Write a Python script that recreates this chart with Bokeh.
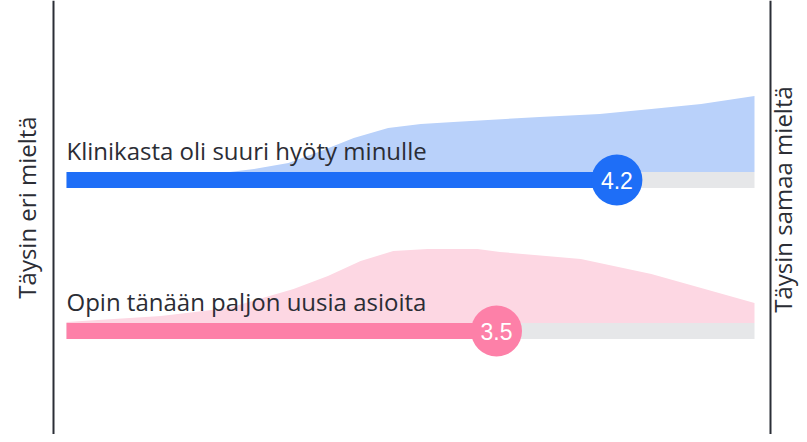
import numpy as np
from bokeh.plotting import figure
from bokeh.models import Range1d, Span, ColumnDataSource
from bokeh.core.properties import value
from bokeh.embed import file_html
from bokeh.resources import INLINE

# ---- data ----
statements = ["Klinikasta oli suuri hyöty minulle", "Opin tänään paljon uusia asioita"]
means = [4.2, 3.5]
mean_labels = ["4.2", "3.5"]
scale_min, scale_max = 1, 5
left_label = "Täysin eri mieltä"
right_label = "Täysin samaa mieltä"

# answer distribution (relative height) along the 1..5 scale
blue_x = [1.95, 2.09, 2.29, 2.48, 2.67, 2.87, 3.06, 3.25, 3.45, 3.75, 4.10, 4.40, 4.69, 5.00]
blue_h = [0, 3, 9, 21, 34, 44, 48, 50, 52, 55, 58, 63, 68, 76]
pink_x = [1.00, 1.55, 1.94, 2.32, 2.52, 2.71, 2.90, 3.10, 3.39, 3.52, 3.99, 4.40, 4.69, 5.00]
pink_h = [1, 7, 15, 34, 47, 62, 72, 74, 74, 71, 64, 49, 35, 20]

# ---- styles / layout ----
W, H = 799, 434
PX_PER_UNIT = 172.0
X0 = 1 - 66 / PX_PER_UNIT
row_y = [254.5, 103.5]
BAR_H = 16
bar_colors = ["#1e6ef7", "#fd80a8"]
area_colors = ["#b9d1fa", "#fdd7e3"]
track_color = "#e6e7e9"
text_color = "#2b2d35"
axis_color = "#2b2e36"
LEFT_LINE_X = X0 + 53 / PX_PER_UNIT
RIGHT_LINE_X = X0 + 770 / PX_PER_UNIT
LEFT_TEXT_X = X0 + 26 / PX_PER_UNIT
RIGHT_TEXT_X = X0 + 782 / PX_PER_UNIT

p = figure(width=W, height=H, output_backend="svg", toolbar_location=None,
           x_range=Range1d(X0, X0 + W / PX_PER_UNIT), y_range=Range1d(0, H),
           x_axis_location=None, y_axis_location=None, min_border=0,
           outline_line_color=None, background_fill_color="white",
           border_fill_color="white")
p.grid.visible = False

# distributions
for xs, hs, base, col in [(blue_x, blue_h, row_y[0] + BAR_H / 2, area_colors[0]),
                          (pink_x, pink_h, row_y[1] + BAR_H / 2, area_colors[1])]:
    xs = np.array(xs, dtype=float)
    hs = np.array(hs, dtype=float)
    p.varea(x=xs, y1=np.full_like(xs, base), y2=base + hs, fill_color=col, fill_alpha=1.0)

# tracks and bars
src = ColumnDataSource(dict(y=row_y, mean=means, lab=mean_labels, bcol=bar_colors,
                            start=[scale_min] * 2, end=[scale_max] * 2,
                            ty=[r + BAR_H / 2 + 5 for r in row_y], stmt=statements))
p.hbar(y="y", left="start", right="end", height=BAR_H, fill_color=track_color, line_color=None, source=src)
p.hbar(y="y", left="start", right="mean", height=BAR_H, fill_color="bcol", line_color=None, source=src)
p.scatter(x="mean", y="y", size=51, marker="circle", fill_color="bcol", line_color=None, source=src)
p.text(x="mean", y="y", text="lab", text_align="center", text_baseline="middle",
       text_color="white", text_font=value("Liberation Sans"), text_font_size="23px", source=src)
p.text(x="start", y="ty", text="stmt", text_align="left", text_baseline="bottom",
       text_color=text_color, text_font=value("Open Sans"), text_font_size="24px", source=src)

# scale end lines and labels
p.add_layout(Span(location=LEFT_LINE_X, dimension="height", line_color=axis_color, line_width=2))
p.add_layout(Span(location=RIGHT_LINE_X, dimension="height", line_color=axis_color, line_width=2))
p.text(x=[LEFT_TEXT_X, RIGHT_TEXT_X], y=[227, 235], text=[left_label, right_label], angle=np.pi / 2,
       text_align="center", text_baseline="middle", text_color=text_color,
       text_font=value("Open Sans"), text_font_size="24px")

open("out.html", "w").write(file_html(p, INLINE))
